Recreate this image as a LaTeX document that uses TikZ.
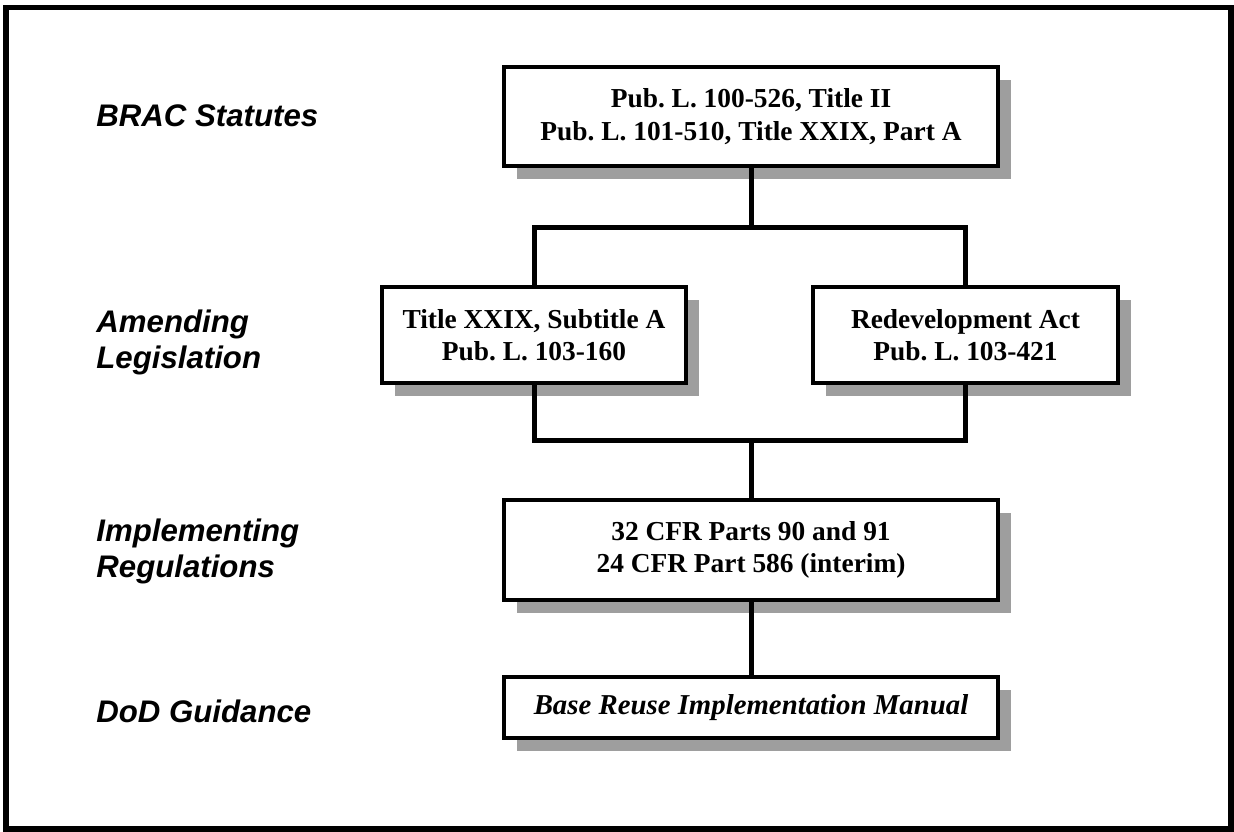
\documentclass[tikz,border=0pt]{standalone}
\usepackage{fontspec}
\setmainfont{Liberation Serif}
\newfontfamily\tierfont{Liberation Sans}
\usepackage{tikz}
\usetikzlibrary{shadows}

\begin{document}
\begin{tikzpicture}[
            x=0.5pt, y=-0.5pt,
            tierlabel/.style={anchor=west, align=left, inner sep=0pt, font=\tierfont\bfseries\itshape\fontsize{15.6}{18}\selectfont},
            lawbox/.style={draw=black, line width=1.6pt, fill=white, align=center, inner sep=2pt,
                           font=\bfseries\fontsize{13.7}{16.2}\selectfont,
                           general shadow={fill=black!38, shadow xshift=6.5pt, shadow yshift=-6.5pt}},
            link/.style={line width=2.5pt},
            frame/.style={line width=2.6pt},
            ]
            \useasboundingbox (0,0) rectangle (1234,831);
            \draw[frame] (6,7.5) rectangle (1231,829);

            % tier names
            \node[tierlabel] (brachead)  at (96,116)   {BRAC Statutes};
            \node[tierlabel] (amendhead) at (96,342)   {Amending\\Legislation};
            \node[tierlabel] (implhead)  at (96,551.5) {Implementing\\Regulations};
            \node[tierlabel] (dodhead)   at (96,711)   {DoD Guidance};

            % boxes
            \node[lawbox, minimum width=247pt, minimum height=49.5pt] (brac) at (751,116.5)
                {Pub.~L. 100-526, Title II\\Pub.~L. 101-510, Title XXIX, Part A};
            \node[lawbox, minimum width=152pt, minimum height=48pt] (titlexxix) at (534,335)
                {Title XXIX, Subtitle A\\Pub.~L. 103-160};
            \node[lawbox, minimum width=152.5pt, minimum height=48pt] (redev) at (965.5,335)
                {Redevelopment Act\\Pub.~L. 103-421};
            \node[lawbox, minimum width=247pt, minimum height=50pt] (cfr) at (751,550)
                {32 CFR Parts 90 and 91\\24 CFR Part 586 (interim)};
            \node[lawbox, minimum width=247pt, minimum height=30.5pt,
                  font=\bfseries\itshape\fontsize{14.4}{16.5}\selectfont] (manual) at (751,707.5)
                {Base Reuse Implementation Manual};

            \coordinate (split) at (751,227);
            \coordinate (merge) at (751,440);

            \draw[link] (brac) -- (split);
            \draw[link] (titlexxix.north) |- (split) -| (redev.north);
            \draw[link] (titlexxix.south) |- (merge) -| (redev.south);
            \draw[link] (merge) -- (cfr);
            \draw[link] (cfr) -- (manual);
        \end{tikzpicture}
\end{document}
